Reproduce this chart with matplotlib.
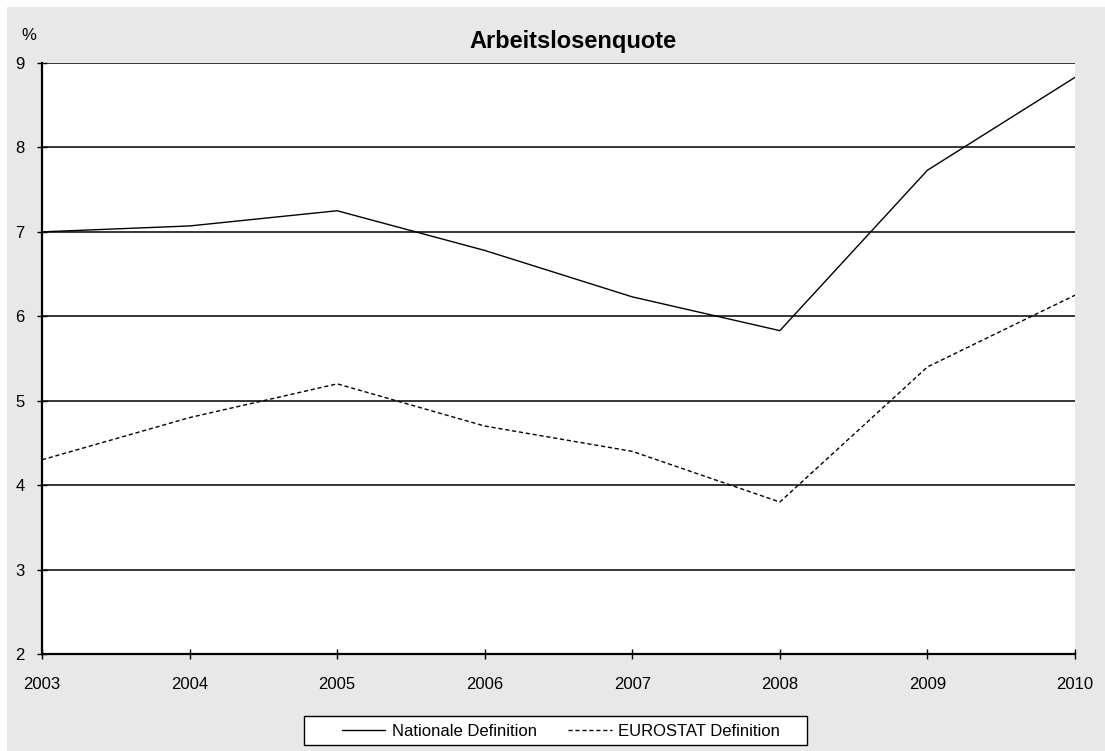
import matplotlib
matplotlib.use("Agg")
import matplotlib.pyplot as plt
from matplotlib.patches import Rectangle

plt.rcParams['font.family'] = ['Liberation Sans', 'DejaVu Sans']

years = [2003, 2004, 2005, 2006, 2007, 2008, 2009, 2010]
nationale = [7.0, 7.07, 7.25, 6.78, 6.23, 5.83, 7.73, 8.83]
eurostat = [4.3, 4.8, 5.2, 4.7, 4.4, 3.8, 5.4, 6.25]
y_ticks = [2, 3, 4, 5, 6, 7, 8, 9]
title = "Arbeitslosenquote"
labels = ["Nationale Definition", "EUROSTAT Definition"]

W, H = 1105, 751
fig = plt.figure(figsize=(W / 100, H / 100), dpi=100)
fig.patch.set_facecolor("white")
# grey chart area with a thin white margin at top and left
fig.patches.append(Rectangle((7 / W, 0), 1 - 7 / W, 1 - 7 / H, transform=fig.transFigure,
                             facecolor="#e8e8e8", edgecolor="none", zorder=-5))

ax = fig.add_axes([42 / W, (H - 654) / H, (1075 - 42) / W, (654 - 63) / H])
ax.set_zorder(1)
ax.set_facecolor("white")

for v in y_ticks[1:]:
    ax.axhline(v, color="black", lw=1.1, zorder=1)

ax.plot(years, nationale, color="black", lw=1.0, zorder=3, label=labels[0])
ax.plot(years, eurostat, color="black", lw=1.0, dashes=(3, 2), zorder=3, label=labels[1])

ax.set_xlim(years[0], years[-1])
ax.set_ylim(2, 9)
ax.set_xticks(years)
ax.set_yticks(y_ticks)
ax.tick_params(axis="both", direction="inout", length=7, width=1, labelsize=12, colors="black")
ax.tick_params(axis="x", pad=13)
ax.tick_params(axis="y", pad=9)

for s in ["top", "right"]:
    ax.spines[s].set_visible(False)
for s in ["left", "bottom"]:
    ax.spines[s].set_linewidth(1.6)
    ax.spines[s].set_color("black")

ax.set_title(title, fontsize=17, fontweight="bold", pad=11, x=0.514)
fig.text(29 / W, 1 - 36 / H, "%", fontsize=12, ha="center", va="center")

# legend frame drawn separately so it can be wider than its entries
fig.patches.append(Rectangle((304 / W, 1 - 745 / H), (807 - 304) / W, 29 / H,
                             transform=fig.transFigure, facecolor="white",
                             edgecolor="black", lw=1.0, zorder=2))
handles, lbls = ax.get_legend_handles_labels()
leg = fig.legend(handles, lbls, loc="center", bbox_to_anchor=(561 / W, 1 - 731 / H), ncol=2,
                 fontsize=12, frameon=False, handlelength=2.6, handletextpad=0.4,
                 columnspacing=1.9, borderpad=0.2)
leg.set_zorder(3)

fig.savefig("out.png", dpi=100, facecolor=fig.get_facecolor())
